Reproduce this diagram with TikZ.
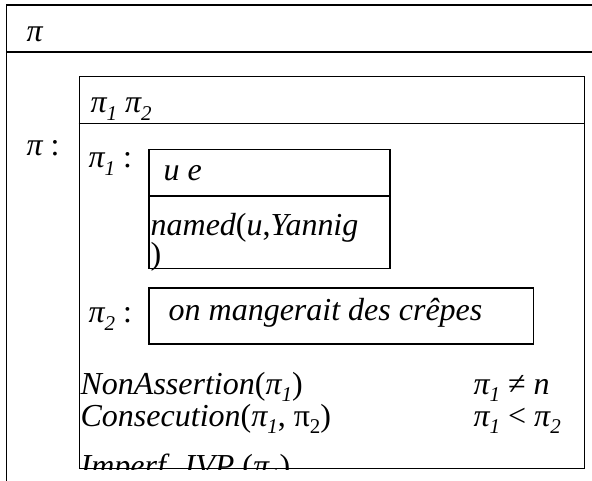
\documentclass[tikz,border=0pt]{standalone}
\usepackage{fontspec}
\setmainfont{Liberation Serif}
\newcommand{\ssub}[1]{\raisebox{-0.22em}{\fontsize{21}{21}\selectfont #1}}
\begin{document}
\begin{tikzpicture}[x=1pt,y=-1pt, line width=1.3pt,
  box/.style={draw, inner sep=0pt, anchor=north west},
  txt/.style={inner sep=0pt, anchor=base west, font=\fontsize{32}{32}\selectfont\itshape}]
\useasboundingbox (0,0) rectangle (592,481);
\clip (0,0) rectangle (592,481);
% outer box
\node[box, minimum width=620pt, minimum height=520pt] (outer) at (6,4.5) {};
\path (outer.north west) ++(0,47.5) coordinate (oh1);
\draw (oh1) -- (oh1 -| outer.east);
% inner box
\node[box, minimum width=505.2pt, minimum height=391.7pt] (inner) at (78.5,76) {};
\path (inner.north west) ++(0,47.3) coordinate (ih1);
\draw (ih1) -- (ih1 -| inner.east);
% pi1 box
\node[box, minimum width=241pt, minimum height=118.7pt] (pa) at (148.3,149) {};
\path (pa.north west) ++(0,47) coordinate (pah);
\draw (pah) -- (pah -| pa.east);
% pi2 box
\node[box, minimum width=384.4pt, minimum height=56pt] (pb) at (148.3,287.3) {};
% texts
\node[txt] (t0) at (26,42) {π};
\node[txt] (t1) at (26,156) {π \upshape:};
\node[txt] (t2) at (90,113) {π\ssub{1} π\ssub{2}};
\node[txt] (t3) at (88,168) {π\ssub{1} \upshape:};
\node[txt] (t4) at (163,181) {u e};
\node[txt] (t5) at (150,236) {named\upshape(\itshape u\upshape,\itshape Yannig};
\node[txt] (t6) at (150,265) {\upshape)};
\node[txt] (t7) at (88,323) {π\ssub{2} \upshape:};
\node[txt] (t8) at (168,320) {on mangerait des crêpes};
\node[txt] (t9) at (80,394) {NonAssertion\upshape(\itshape π\ssub{1}\upshape)};
\node[txt] (t10) at (473,394) {π\ssub{1} \upshape≠ \itshape n};
\node[txt] (t11) at (80,426) {Consecution\upshape(\itshape π\ssub{1}\upshape, π\ssub{2})};
\node[txt] (t12) at (473,426) {π\ssub{1} \upshape< \itshape π\ssub{2}};
\begin{scope}
\clip (inner.north west) rectangle (inner.south east);
\node[txt] (t13) at (80,476) {Imperf. IVP \upshape(\itshape π\ssub{1}\upshape)};
\end{scope}
\end{tikzpicture}
\end{document}
